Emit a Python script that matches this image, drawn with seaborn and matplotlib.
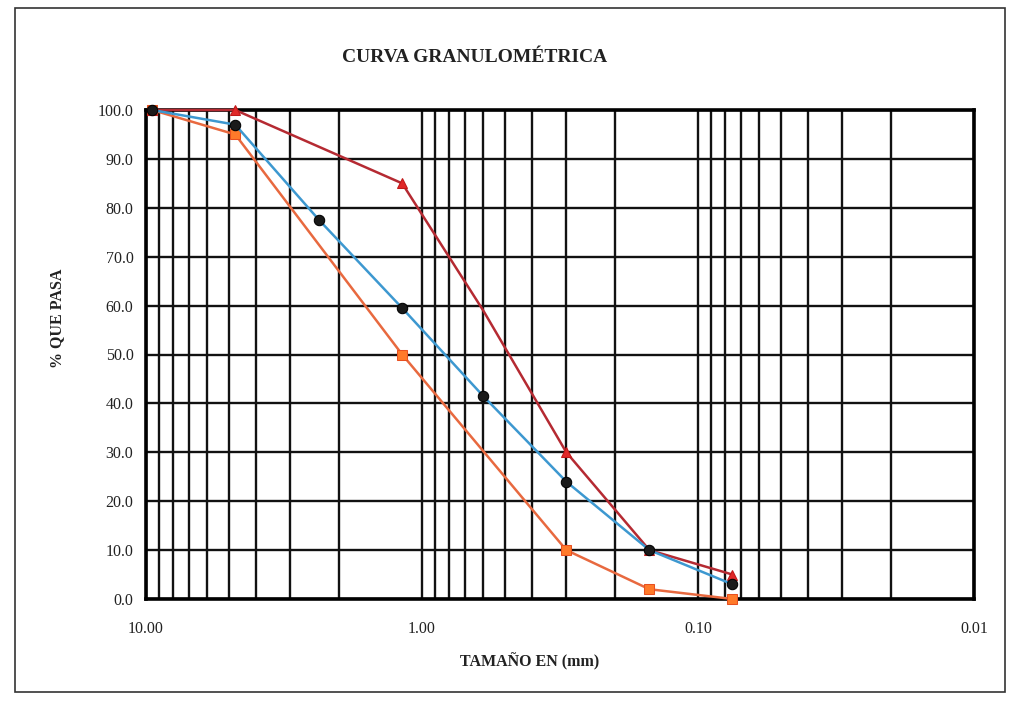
import matplotlib
matplotlib.use("Agg")
import matplotlib.pyplot as plt
import matplotlib.ticker as mticker
from matplotlib.patches import Rectangle
import seaborn as sns
import pandas as pd

# ---- data ----
title = "CURVA GRANULOMÉTRICA"
xlabel = "TAMAÑO EN (mm)"
ylabel = "% QUE PASA"

sample_size = [9.5, 4.75, 2.36, 1.18, 0.6, 0.3, 0.15, 0.075]
sample_pass = [100.0, 97.0, 77.5, 59.5, 41.5, 24.0, 10.0, 3.0]

upper_size = [9.5, 4.75, 1.18, 0.6, 0.3, 0.15, 0.075]
upper_pass = [100.0, 100.0, 85.0, 59.0, 30.0, 10.0, 5.0]

lower_size = [9.5, 4.75, 1.18, 0.3, 0.15, 0.075]
lower_pass = [100.0, 95.0, 50.0, 10.0, 2.0, 0.0]

xticks = [10, 1, 0.1, 0.01]
xticklabels = ["10.00", "1.00", "0.10", "0.01"]
yticks = [0, 10, 20, 30, 40, 50, 60, 70, 80, 90, 100]
yticklabels = [f"{v:.1f}" for v in yticks]

sns.set_theme(style="white")
plt.rcParams["font.family"] = ["Liberation Serif", "DejaVu Serif"]

fig = plt.figure(figsize=(10.10, 7.01), dpi=100)
ax = fig.add_axes([146 / 1010, 1 - 599 / 701, (974 - 146) / 1010, (599 - 110) / 701])

# outer frame of the scanned sheet
fig.patches.append(Rectangle((15 / 1010, 1 - 692 / 701), (1005 - 15) / 1010, (692 - 8) / 701,
                             transform=fig.transFigure, fill=False, edgecolor="#333333",
                             linewidth=1.2))

df_s = pd.DataFrame({"size": sample_size, "pass": sample_pass})
df_u = pd.DataFrame({"size": upper_size, "pass": upper_pass})
df_l = pd.DataFrame({"size": lower_size, "pass": lower_pass})

sns.lineplot(data=df_l, x="size", y="pass", ax=ax, color="#e8693f", linewidth=1.8,
             marker="s", markersize=7, markerfacecolor="#ff7a2a", markeredgecolor="#e85020",
             clip_on=False, zorder=4, sort=False)
sns.lineplot(data=df_u, x="size", y="pass", ax=ax, color="#b52a32", linewidth=1.8,
             marker="^", markersize=7, markerfacecolor="#e02828", markeredgecolor="#c01818",
             markevery=[0, 1, 2, 4, 5, 6],
             clip_on=False, zorder=5, sort=False)
sns.lineplot(data=df_s, x="size", y="pass", ax=ax, color="#3d98d0", linewidth=1.8,
             marker="o", markersize=7.5, markerfacecolor="#1a1a1a", markeredgecolor="#000000",
             clip_on=False, zorder=6, sort=False)

ax.set_xscale("log")
ax.set_xlim(10, 0.01)
ax.set_ylim(0, 100)

ax.xaxis.set_major_locator(mticker.FixedLocator(xticks))
ax.xaxis.set_major_formatter(mticker.FixedFormatter(xticklabels))
ax.xaxis.set_minor_locator(mticker.LogLocator(base=10, subs=range(2, 10), numticks=20))
ax.xaxis.set_minor_formatter(mticker.NullFormatter())
ax.set_yticks(yticks)
ax.set_yticklabels(yticklabels)

ax.grid(True, which="major", axis="both", color="#111111", linewidth=1.7)
ax.grid(True, which="minor", axis="x", color="#111111", linewidth=1.7)
ax.set_axisbelow(True)

ax.tick_params(axis="both", which="both", length=0)
ax.tick_params(axis="x", pad=16, labelsize=11.5)
ax.tick_params(axis="y", pad=9, labelsize=11.5)
for lab in ax.get_xticklabels() + ax.get_yticklabels():
    lab.set_color("#222222")

for sp in ax.spines.values():
    sp.set_visible(True)
    sp.set_color("#000000")
    sp.set_linewidth(2.6)

ax.set_xlabel("")
ax.set_ylabel("")
fig.text(530 / 1010, 1 - 662 / 701, xlabel, ha="center", va="center",
         fontsize=11.5, fontweight="bold", color="#222222")
fig.text(57 / 1010, 1 - 318 / 701, ylabel, ha="center", va="center", rotation=90,
         fontsize=11.5, fontweight="bold", color="#222222")
fig.text(475 / 1010, 1 - 57 / 701, title, ha="center", va="center",
         fontsize=14, fontweight="bold", color="#222222")

fig.savefig("out.png", dpi=100)
